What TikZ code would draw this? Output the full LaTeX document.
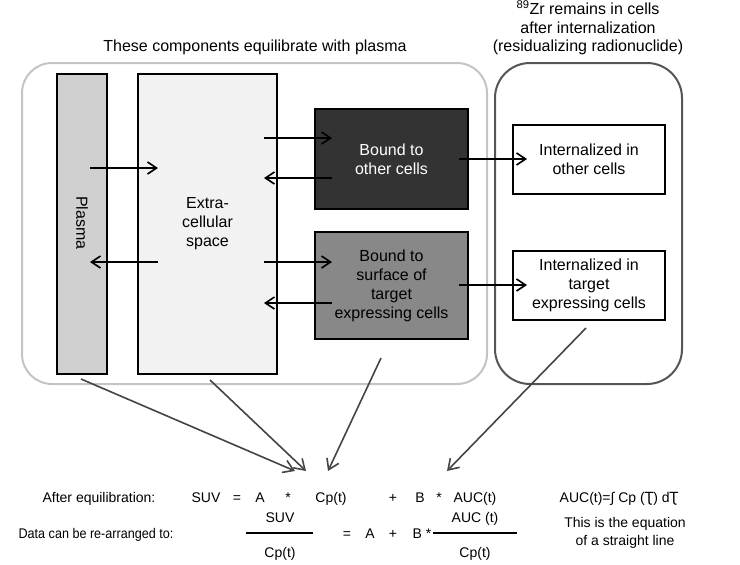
\documentclass[tikz,border=0pt]{standalone}
\usepackage{fontspec}
\setmainfont{Liberation Sans}
\newfontfamily\dejavu{DejaVu Sans}
\usetikzlibrary{arrows.meta}
\definecolor{grpA}{HTML}{C4C4C4}
\definecolor{grpB}{HTML}{555555}
\definecolor{plasmafill}{HTML}{D0D0D0}
\definecolor{extrafill}{HTML}{F2F2F2}
\definecolor{darkfill}{HTML}{333333}
\definecolor{midfill}{HTML}{888888}
\definecolor{diagcol}{HTML}{444444}
\tikzset{
  groupa/.style={draw=grpA, line width=2pt, rounded corners=30pt},
  groupb/.style={draw=grpB, line width=2pt, rounded corners=35pt},
  cellbox/.style={draw=black, line width=2pt, inner sep=0pt, align=center,
    font=\fontsize{16}{19}\selectfont},
  bigtxt/.style={font=\fontsize{16}{18.5}\selectfont, align=center, inner sep=0pt},
  eqtxt/.style={font=\fontsize{14}{17}\selectfont, anchor=base, inner sep=0pt},
  harrow/.style={draw=black, line width=1.6pt, -{Straight Barb[length=9pt,width=12pt,line width=1.6pt]}},
  darrow/.style={draw=diagcol, line width=1.6pt, -{Straight Barb[length=10pt,width=13pt,line width=1.6pt]}},
  fracbar/.style={draw=black, line width=2pt}
}
\begin{document}
\begin{tikzpicture}[x=1pt,y=-1pt]
\useasboundingbox (0,0) rectangle (740,565);

% titles
\node[bigtxt] (titleA) at (255,47) {These components equilibrate with plasma};
\node[bigtxt] (titleB) at (588,28) {\textsuperscript{89}Zr remains in cells\\after internalization\\(residualizing radionuclide)};

% group frames
\draw[groupa] (22,63) rectangle (487,384);
\draw[groupb] (495,63) rectangle (682,384);

% compartments
\node[cellbox, fill=plasmafill, minimum width=50pt, minimum height=300pt] (plasma) at (82,224) {};
\node[rotate=-90, font=\fontsize{16}{19}\selectfont] (plasmatxt) at (82,223) {Plasma};
\node[cellbox, fill=extrafill, minimum width=139pt, minimum height=300pt] (extra) at (207.5,224) {Extra-\\cellular\\space};
\node[cellbox, fill=darkfill, text=white, minimum width=153pt, minimum height=100pt] (bother) at (391.5,159) {Bound to\\other cells};
\node[cellbox, fill=midfill, minimum width=153pt, minimum height=107pt] (btarget) at (391.5,285.5) {Bound to\\surface of\\target\\expressing cells};
\node[cellbox, fill=white, minimum width=152pt, minimum height=69pt] (iother) at (589,159.5) {Internalized in\\other cells};
\node[cellbox, fill=white, minimum width=152pt, minimum height=69pt] (itarget) at (589,285.5) {Internalized in\\target\\expressing cells};

% horizontal arrow end points
\coordinate (p1a) at (90,168);  \coordinate (p1b) at (158,168);
\coordinate (p2a) at (158,262); \coordinate (p2b) at (90,262);
\coordinate (e1a) at (264,138); \coordinate (e1b) at (332,138);
\coordinate (e2a) at (332,178); \coordinate (e2b) at (264,178);
\coordinate (e3a) at (264,262); \coordinate (e3b) at (332,262);
\coordinate (e4a) at (332,303); \coordinate (e4b) at (264,303);
\coordinate (i1a) at (459,159); \coordinate (i1b) at (527,159);
\coordinate (i2a) at (459,285); \coordinate (i2b) at (527,285);

\draw[harrow] (p1a) -- (p1b);
\draw[harrow] (p2a) -- (p2b);
\draw[harrow] (e1a) -- (e1b);
\draw[harrow] (e2a) -- (e2b);
\draw[harrow] (e3a) -- (e3b);
\draw[harrow] (e4a) -- (e4b);
\draw[harrow] (i1a) -- (i1b);
\draw[harrow] (i2a) -- (i2b);

% diagonal arrows
\coordinate (d1a) at (81,379);  \coordinate (d1b) at (295,471);
\coordinate (d2a) at (210,380); \coordinate (d2b) at (306,471);
\coordinate (d3a) at (381,358); \coordinate (d3b) at (328,471);
\coordinate (d4a) at (586,328); \coordinate (d4b) at (447,471);
\draw[darrow] (d1a) -- (d1b);
\draw[darrow] (d2a) -- (d2b);
\draw[darrow] (d3a) -- (d3b);
\draw[darrow] (d4a) -- (d4b);

% equation line 1
\node[eqtxt] (lab1) at (99,502) {After equilibration:};
\node[eqtxt] (suv1) at (206,502) {SUV};
\node[eqtxt] (eqa) at (237,502) {=};
\node[eqtxt] (aa) at (260,502) {A};
\node[eqtxt] (sta) at (288,502) {*};
\node[eqtxt] (cpa) at (331,502) {Cp(t)};
\node[eqtxt] (pla) at (393,502) {+};
\node[eqtxt] (ba) at (420,502) {B};
\node[eqtxt] (stb) at (439,502) {*};
\node[eqtxt] (auca) at (475,502) {AUC(t)};
\node[eqtxt] (aucdef) at (619,502) {AUC(t)=∫ Cp ({\dejavu Ʈ}) d{\dejavu Ʈ}};

% equation line 2
\node[eqtxt] (lab2) at (96,538) {\scalebox{0.9}[1]{Data can be re-arranged to:}};
\coordinate (f1a) at (246,533); \coordinate (f1b) at (313,533);
\draw[fracbar] (f1a) -- (f1b);
\node[eqtxt] (num1) at (280,522) {SUV};
\node[eqtxt] (den1) at (280,557) {Cp(t)};
\node[eqtxt] (eqb) at (347,538) {=};
\node[eqtxt] (ab) at (370,538) {A};
\node[eqtxt] (plb) at (393,538) {+};
\node[eqtxt] (bb) at (422,538) {B *};
\coordinate (f2a) at (433,533); \coordinate (f2b) at (517,533);
\draw[fracbar] (f2a) -- (f2b);
\node[eqtxt] (num2) at (475,522) {AUC (t)};
\node[eqtxt] (den2) at (475,557) {Cp(t)};
\node[font=\fontsize{14}{18}\selectfont, align=center, inner sep=0pt] (straight) at (625,533) {This is the equation\\of a straight line};
\end{tikzpicture}
\end{document}
